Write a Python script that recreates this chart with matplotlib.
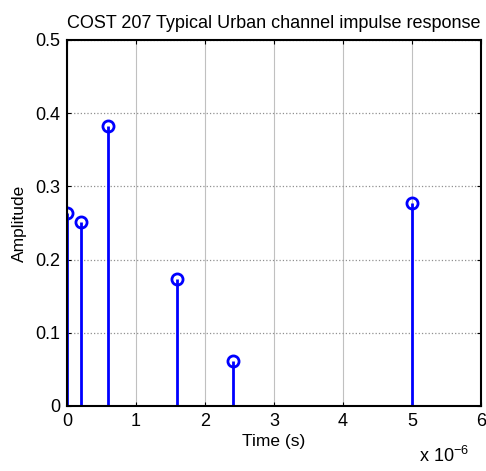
import matplotlib.pyplot as plt
import numpy as np

plt.rcParams['font.family'] = ['Liberation Sans', 'DejaVu Sans']

# COST 207 TU path delays (s) and amplitudes
delays = np.array([0.0, 0.2, 0.6, 1.6, 2.4, 5.0]) * 1e-6
amplitudes = [0.264, 0.251, 0.383, 0.173, 0.062, 0.277]

fig = plt.figure(figsize=(4.86, 4.71), dpi=100)
ax = fig.add_axes([67 / 486, 65 / 471, 414 / 486, 366 / 471])

x = delays * 1e6
ml, sl, bl = ax.stem(x, amplitudes, basefmt=' ')
plt.setp(sl, color='blue', linewidth=2)
plt.setp(ml, color='blue', markerfacecolor='none', markeredgewidth=2, markersize=8)

ax.set_xlim(0, 6)
ax.set_ylim(0, 0.5)
ax.set_xticks(range(0, 7))
ax.set_yticks([0, 0.1, 0.2, 0.3, 0.4, 0.5])
ax.set_yticklabels(['0', '0.1', '0.2', '0.3', '0.4', '0.5'])

# vertical grid lighter and solid, horizontal grid dotted
ax.grid(True, axis='x', color='#c0c0c0', linestyle='-', linewidth=0.8)
ax.grid(True, axis='y', color='#909090', linestyle=':', linewidth=0.9)
ax.set_axisbelow(True)
ax.tick_params(direction='in', top=True, right=True, labelsize=13, length=3, pad=5)
for s in ax.spines.values():
    s.set_linewidth(1.5)

ax.set_xlabel('Time (s)', fontsize=12.5, labelpad=3)
ax.set_ylabel('Amplitude', fontsize=12.5, labelpad=6)
ax.set_title('COST 207 Typical Urban channel impulse response', fontsize=13, pad=9)
fig.text(0.965, 0.02, r'x 10$^{\mathregular{-6}}$', fontsize=13, ha='right')

fig.savefig('out.png', dpi=100)
